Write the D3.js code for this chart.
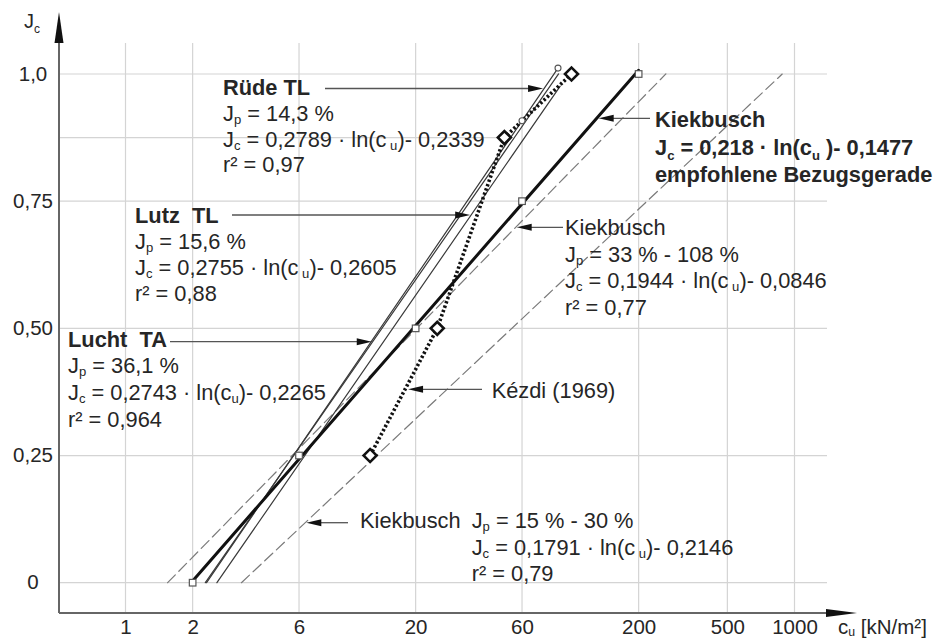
<!DOCTYPE html>
<html><head><meta charset="utf-8">
<script src="https://cdn.jsdelivr.net/npm/d3@7"></script>
<style>
body{margin:0;background:#fff}
svg{display:block;font-family:"Liberation Sans",Arial,Helvetica,sans-serif}
</style>
</head><body>
<svg id="chart" width="937" height="644"></svg>
<script>
// axis ticks
const xTicks = [1, 2, 6, 20, 60, 200, 500, 1000];
const yTicks = [0, 0.25, 0.5, 0.75, 1.0];
const yTickLabels = ["0", "0,25", "0,50", "0,75", "1,0"];

// regression lines  J_c = a · ln(c_u) + b
const fitNames = ["Rüde TL", "Lutz TL", "Lucht TA", "Kiekbusch", "Kiekbusch 33-108", "Kiekbusch 15-30"];
const fitSlope = [0.2789, 0.2755, 0.2743, 0.218, 0.1944, 0.1791];
const fitIntercept = [-0.2339, -0.2605, -0.2265, -0.1477, -0.0846, -0.2146];
const fitCuStart = [2.31, 2.57, 2.28, 2, 1.545, 3.31];
const fitCuEnd = [87, 89, 87.5, 200, 265, 881];

// points of the recommended reference line
const refCu = [2, 6, 20, 60, 200];
const refJc = [0, 0.25, 0.5, 0.75, 1.0];

// measured points on the Rüde TL line
const ruedeCu = [60, 87];

// Kézdi (1969)
const kezdiCu = [12.5, 25, 50, 100];
const kezdiJc = [0.25, 0.5, 0.875, 1.0];

const svg = d3.select("#chart");
const TEXT = "#262626";
const FS = 20.5;     // tick labels
const LFS = 21.8;    // annotation text

const x = d3.scaleLog().domain([1, 1000]).range([125.5, 794.5]);
const y = d3.scaleLinear().domain([0, 1]).range([582.7, 74]);
const axisX0 = 59, axisY0 = 613;

const fitJ = (i, cu) => fitSlope[i] * Math.log(cu) + fitIntercept[i];
const fitCuAt = (i, j) => Math.exp((j - fitIntercept[i]) / fitSlope[i]);

// grid
const grid = svg.append("g").attr("stroke", "#d4d4d4").attr("stroke-width", 1.2);
grid.selectAll("line.v").data(xTicks).join("line")
  .attr("x1", d => x(d)).attr("x2", d => x(d)).attr("y1", 43).attr("y2", axisY0);
grid.selectAll("line.h").data(yTicks).join("line")
  .attr("x1", axisX0).attr("x2", 827).attr("y1", d => y(d)).attr("y2", d => y(d));
// reference line to the Kézdi point at 0,875
grid.append("line")
  .attr("x1", axisX0).attr("x2", x(kezdiCu[2])).attr("y1", y(kezdiJc[2])).attr("y2", y(kezdiJc[2]));

// regression lines
const lineStyle = [
  {stroke: "#3a3a3a", width: 1.2, dash: null},
  {stroke: "#3a3a3a", width: 1.2, dash: null},
  {stroke: "#3a3a3a", width: 1.2, dash: null},
  {stroke: "#111", width: 3, dash: null},
  {stroke: "#7a7a7a", width: 1.2, dash: "11,5"},
  {stroke: "#7a7a7a", width: 1.2, dash: "11,5"}
];
const fitOrder = [4, 5, 0, 1, 2, 3];
svg.append("g").selectAll("line").data(fitOrder).join("line")
  .attr("x1", i => x(fitCuStart[i])).attr("y1", i => y(Math.max(0, fitJ(i, fitCuStart[i]))))
  .attr("x2", i => x(fitCuEnd[i])).attr("y2", i => y(fitJ(i, fitCuEnd[i])))
  .attr("stroke", i => lineStyle[i].stroke)
  .attr("stroke-width", i => lineStyle[i].width)
  .attr("stroke-dasharray", i => lineStyle[i].dash)
  .attr("stroke-linecap", "round");

// Kézdi dotted polyline
const kezdi = kezdiCu.map((c, i) => [c, kezdiJc[i]]);
svg.append("path")
  .attr("d", d3.line().x(d => x(d[0])).y(d => y(d[1]))(kezdi))
  .attr("fill", "none").attr("stroke", "#111").attr("stroke-width", 3.6)
  .attr("stroke-dasharray", "2.4,2.2");

// markers: reference squares
svg.append("g").selectAll("rect").data(refCu.map((c, i) => [c, refJc[i]])).join("rect")
  .attr("x", d => x(d[0]) - 3.3).attr("y", d => y(d[1]) - 3.3)
  .attr("width", 6.6).attr("height", 6.6)
  .attr("fill", "#fff").attr("stroke", "#555").attr("stroke-width", 1.2);

// markers: Rüde circles
svg.append("g").selectAll("circle").data(ruedeCu).join("circle")
  .attr("cx", d => x(d)).attr("cy", d => y(fitJ(0, d))).attr("r", 3)
  .attr("fill", "#fff").attr("stroke", "#555").attr("stroke-width", 1.1);

// markers: Kézdi diamonds
svg.append("g").selectAll("rect").data(kezdi).join("rect")
  .attr("x", -4.6).attr("y", -4.6).attr("width", 9.2).attr("height", 9.2)
  .attr("transform", d => `translate(${x(d[0])},${y(d[1])}) rotate(45)`)
  .attr("fill", "#fff").attr("stroke", "#111").attr("stroke-width", 2.6);

// leader arrows (horizontal, pointing to a curve)
function arrow(x1, yy, tipX, gap) {
  const tx = tipX - Math.sign(tipX - x1) * (gap || 1);
  const dir = Math.sign(tx - x1);
  const g = svg.append("g");
  g.append("line").attr("x1", x1).attr("x2", tx - dir * 12).attr("y1", yy).attr("y2", yy)
    .attr("stroke", "#555").attr("stroke-width", 1.3);
  g.append("path")
    .attr("d", `M${tx},${yy} L${tx - dir * 15},${yy - 3.5} L${tx - dir * 15},${yy + 3.5} Z`)
    .attr("fill", "#111");
}
const yAtPix = py => y.invert(py);
arrow(325, 88.5, x(fitCuAt(0, yAtPix(88.5))));
arrow(232, 215, x(fitCuAt(1, yAtPix(215))));
arrow(170, 341.7, x(fitCuAt(2, yAtPix(341.7))));
arrow(650, 118.3, x(fitCuAt(3, yAtPix(118.3))), 2);
arrow(563, 227.3, x(fitCuAt(4, yAtPix(227.3))));
{
  const j = yAtPix(389.3);
  const t = (j - kezdiJc[0]) / (kezdiJc[1] - kezdiJc[0]);
  const px = x(kezdiCu[0]) + t * (x(kezdiCu[1]) - x(kezdiCu[0]));
  arrow(482, 389.3, px, 3);
}
arrow(348, 522.7, x(fitCuAt(5, yAtPix(522.7))));

// rich text: {..} marks a subscript
function rich(px, py, str, opts = {}) {
  const size = opts.size || LFS;
  const t = svg.append("text").attr("x", px).attr("y", py)
    .attr("font-size", size).attr("fill", TEXT)
    .attr("font-weight", opts.bold ? "bold" : null)
    .style("white-space", "pre");
  const parts = str.split(/(\{[^}]*\})/).filter(s => s.length);
  let shift = 0;
  parts.forEach(p => {
    if (p.startsWith("{")) {
      const s = opts.subShift || 3;
      t.append("tspan").attr("font-size", size * 0.6).attr("dy", s - shift)
        .text(p.slice(1, -1));
      shift = s;
    } else {
      t.append("tspan").attr("dy", -shift).text(p);
      shift = 0;
    }
  });
  return t;
}
function block(px, py, lines, lh, boldFirst) {
  lines.forEach((l, k) => rich(px, py + k * lh, l, {bold: boldFirst && k === 0}));
}

const NB = "\u00A0";
block(223, 95, ["Rüde TL", "J{p} = 14,3 %", `J{c} = 0,2789 · ln(c{${NB}u})- 0,2339`, "r² = 0,97"], 25.8, true);
block(135, 222.5, [`Lutz${NB}${NB}TL`, "J{p} = 15,6 %", `J{c} = 0,2755 · ln(c{${NB}u})- 0,2605`, "r² = 0,88"], 26, true);
block(68, 346.7, [`Lucht${NB}${NB}TA`, "J{p} = 36,1 %", "J{c} = 0,2743 · ln(c{u})- 0,2265", "r² = 0,964"], 26.6, true);

rich(655, 126.7, "Kiekbusch", {bold: true});
rich(655, 155, `J{c} = 0,218 · ln(c{u}${NB})- 0,1477`, {bold: true, subShift: 5});
rich(655, 182, "empfohlene Bezugsgerade", {bold: true});

block(565, 235, ["Kiekbusch", "J{p} = 33 % - 108 %", `J{c} = 0,1944 · ln(c{${NB}u})- 0,0846`, "r² = 0,77"], 26.6, false);

rich(491.7, 398.3, "Kézdi (1969)");

rich(360, 528.3, "Kiekbusch");
block(471.7, 528.3, ["J{p} = 15 % - 30 %", `J{c} = 0,1791 · ln(c{${NB}u})- 0,2146`, "r² = 0,79"], 26.2, false);

// axes
const xAxis = svg.append("g").attr("transform", `translate(0,${axisY0})`)
  .call(d3.axisBottom(x).tickValues(xTicks).tickFormat(d3.format("d")).tickSize(0));
xAxis.select(".domain").remove();
xAxis.selectAll("text").attr("y", 21).attr("dy", 0)
  .attr("font-size", FS).attr("fill", TEXT).attr("font-family", null);

const yAxis = svg.append("g").attr("transform", `translate(${axisX0},0)`)
  .call(d3.axisLeft(y).tickValues(yTicks).tickFormat((d, i) => yTickLabels[i]).tickSize(0));
yAxis.select(".domain").remove();
yAxis.selectAll("text").attr("x", -26).attr("dy", "0.3em").attr("text-anchor", "middle")
  .attr("font-size", FS).attr("fill", TEXT).attr("font-family", null);

svg.append("line").attr("x1", axisX0).attr("x2", axisX0).attr("y1", axisY0).attr("y2", 40)
  .attr("stroke", "#666").attr("stroke-width", 2);
svg.append("path").attr("d", `M${axisX0},12 L${axisX0 - 4.5},43 L${axisX0 + 4.5},43 Z`).attr("fill", "#111");
svg.append("line").attr("x1", axisX0).attr("x2", 830).attr("y1", axisY0).attr("y2", axisY0)
  .attr("stroke", "#666").attr("stroke-width", 2);
svg.append("path").attr("d", `M857,${axisY0} L826,${axisY0 - 4} L826,${axisY0 + 4} Z`).attr("fill", "#111");

// axis titles
rich(24, 28, "J{c}", {size: 20, subShift: 5});
rich(838, 634, "c{u} [kN/m²]", {size: 20.5, subShift: 2});
</script>
</body></html>
